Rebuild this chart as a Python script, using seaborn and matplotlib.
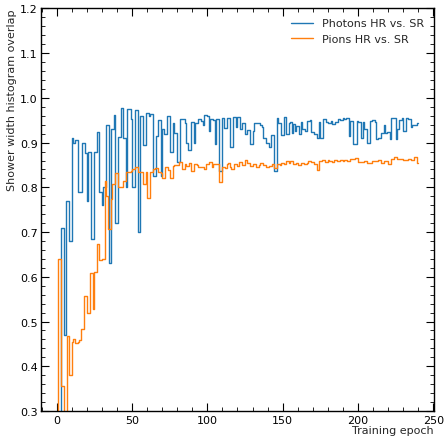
import matplotlib
matplotlib.use("Agg")
import matplotlib.pyplot as plt
from matplotlib.ticker import MultipleLocator
import numpy as np
import pandas as pd
import seaborn as sns

# Overlap per training epoch (epochs 0..240)
photons_hr_vs_sr = [
    0.20, 0.22, 0.24, 0.71, 0.71, 0.47, 0.77, 0.77, 0.68, 0.68,
    0.91, 0.90, 0.905, 0.905, 0.79, 0.79, 0.79, 0.90, 0.90, 0.877,
    0.77, 0.88, 0.88, 0.685, 0.685, 0.88, 0.88, 0.923, 0.79, 0.79,
    0.76, 0.80, 0.80, 0.94, 0.94, 0.63, 0.93, 0.93, 0.962, 0.72,
    0.72, 0.913, 0.913, 0.977, 0.91, 0.91, 0.80, 0.976, 0.976, 0.953,
    0.80, 0.80, 0.973, 0.973, 0.70, 0.96, 0.96, 0.894, 0.894, 0.966,
    0.966, 0.96, 0.963, 0.963, 0.825, 0.825, 0.914, 0.95, 0.95, 0.826,
    0.93, 0.92, 0.92, 0.96, 0.96, 0.878, 0.878, 0.944, 0.922, 0.922,
    0.856, 0.856, 0.952, 0.952, 0.952, 0.944, 0.90, 0.884, 0.884, 0.946,
    0.946, 0.90, 0.944, 0.944, 0.952, 0.952, 0.948, 0.94, 0.962, 0.962,
    0.96, 0.927, 0.952, 0.952, 0.95, 0.898, 0.953, 0.953, 0.837, 0.837,
    0.955, 0.933, 0.933, 0.955, 0.955, 0.89, 0.89, 0.958, 0.958, 0.935,
    0.958, 0.958, 0.93, 0.944, 0.944, 0.92, 0.928, 0.928, 0.897, 0.897,
    0.925, 0.943, 0.943, 0.943, 0.943, 0.94, 0.935, 0.91, 0.91, 0.90,
    0.90, 0.89, 0.916, 0.916, 0.837, 0.837, 0.954, 0.944, 0.944, 0.917,
    0.917, 0.958, 0.92, 0.92, 0.944, 0.946, 0.922, 0.941, 0.926, 0.937,
    0.937, 0.919, 0.945, 0.93, 0.93, 0.926, 0.948, 0.948, 0.95, 0.924,
    0.924, 0.919, 0.919, 0.911, 0.945, 0.911, 0.911, 0.953, 0.953, 0.945,
    0.944, 0.944, 0.948, 0.941, 0.941, 0.946, 0.946, 0.953, 0.951, 0.951,
    0.955, 0.953, 0.955, 0.956, 0.915, 0.948, 0.948, 0.896, 0.896, 0.948,
    0.946, 0.946, 0.911, 0.946, 0.93, 0.93, 0.90, 0.90, 0.948, 0.95,
    0.95, 0.945, 0.907, 0.91, 0.91, 0.922, 0.922, 0.94, 0.922, 0.923,
    0.923, 0.908, 0.954, 0.954, 0.954, 0.908, 0.93, 0.95, 0.95, 0.954,
    0.926, 0.926, 0.954, 0.952, 0.952, 0.934, 0.94, 0.94, 0.94, 0.943,
    0.943,
]

pions_hr_vs_sr = [
    0.15, 0.64, 0.64, 0.357, 0.357, 0.25, 0.25, 0.468, 0.38, 0.38,
    0.455, 0.46, 0.452, 0.452, 0.455, 0.458, 0.483, 0.483, 0.556, 0.556,
    0.52, 0.52, 0.608, 0.608, 0.528, 0.611, 0.611, 0.674, 0.637, 0.637,
    0.64, 0.64, 0.814, 0.781, 0.706, 0.706, 0.773, 0.807, 0.807, 0.833,
    0.833, 0.80, 0.80, 0.80, 0.815, 0.815, 0.835, 0.835, 0.835, 0.837,
    0.842, 0.842, 0.845, 0.845, 0.835, 0.835, 0.835, 0.807, 0.807, 0.835,
    0.777, 0.777, 0.835, 0.835, 0.84, 0.843, 0.843, 0.835, 0.835, 0.833,
    0.82, 0.82, 0.845, 0.845, 0.838, 0.82, 0.82, 0.847, 0.849, 0.849,
    0.849, 0.857, 0.857, 0.84, 0.84, 0.852, 0.848, 0.848, 0.854, 0.837,
    0.837, 0.852, 0.852, 0.849, 0.846, 0.846, 0.846, 0.846, 0.84, 0.852,
    0.852, 0.857, 0.857, 0.846, 0.852, 0.852, 0.852, 0.852, 0.812, 0.812,
    0.846, 0.846, 0.844, 0.852, 0.854, 0.846, 0.84, 0.84, 0.852, 0.852,
    0.848, 0.857, 0.857, 0.85, 0.85, 0.862, 0.855, 0.855, 0.848, 0.848,
    0.852, 0.852, 0.846, 0.846, 0.85, 0.855, 0.855, 0.85, 0.85, 0.846,
    0.846, 0.848, 0.848, 0.852, 0.843, 0.843, 0.852, 0.852, 0.85, 0.855,
    0.855, 0.852, 0.858, 0.858, 0.855, 0.859, 0.859, 0.852, 0.852, 0.855,
    0.849, 0.849, 0.855, 0.855, 0.852, 0.852, 0.855, 0.859, 0.859, 0.857,
    0.857, 0.852, 0.852, 0.838, 0.859, 0.859, 0.862, 0.862, 0.857, 0.857,
    0.862, 0.859, 0.859, 0.857, 0.862, 0.862, 0.859, 0.859, 0.862, 0.862,
    0.859, 0.862, 0.862, 0.859, 0.859, 0.863, 0.863, 0.863, 0.865, 0.865,
    0.857, 0.857, 0.857, 0.857, 0.859, 0.859, 0.854, 0.854, 0.854, 0.859,
    0.859, 0.859, 0.859, 0.862, 0.862, 0.854, 0.854, 0.859, 0.859, 0.859,
    0.852, 0.852, 0.863, 0.863, 0.867, 0.867, 0.863, 0.863, 0.863, 0.863,
    0.862, 0.862, 0.862, 0.863, 0.863, 0.862, 0.862, 0.867, 0.867, 0.855,
    0.855,
]

series_labels = ["Photons HR vs. SR", "Pions HR vs. SR"]
series_colors = ["#1f77b4", "#ff7f0e"]

epochs = np.arange(len(photons_hr_vs_sr))
df = pd.concat([
    pd.DataFrame({"epoch": epochs, "overlap": photons_hr_vs_sr, "series": series_labels[0]}),
    pd.DataFrame({"epoch": epochs, "overlap": pions_hr_vs_sr, "series": series_labels[1]}),
], ignore_index=True)

sns.set_style("ticks")
plt.rcParams.update({
    "font.family": ["DejaVu Sans"],
    "font.size": 8,
    "xtick.direction": "in",
    "ytick.direction": "in",
    "xtick.top": True,
    "ytick.right": True,
    "xtick.minor.visible": True,
    "ytick.minor.visible": True,
    "xtick.major.size": 5.5,
    "ytick.major.size": 5.5,
    "xtick.minor.size": 3,
    "ytick.minor.size": 3,
    "xtick.major.width": 0.8,
    "ytick.major.width": 0.8,
    "xtick.color": "black",
    "ytick.color": "black",
    "axes.edgecolor": "black",
    "axes.linewidth": 1.0,
})

fig = plt.figure(figsize=(4.45, 4.39), dpi=100)
ax = fig.add_axes([0.0915, 0.0615, 0.884, 0.917])

sns.lineplot(
    data=df, x="epoch", y="overlap", hue="series",
    palette=dict(zip(series_labels, series_colors)),
    drawstyle="steps-post", linewidth=1.0, ax=ax, estimator=None,
)

ax.set_xlim(-10.6, 250.5)
ax.set_ylim(0.3, 1.2)
ax.xaxis.set_major_locator(MultipleLocator(50))
ax.xaxis.set_minor_locator(MultipleLocator(10))
ax.yaxis.set_major_locator(MultipleLocator(0.1))
ax.yaxis.set_minor_locator(MultipleLocator(0.02))
ax.tick_params(which="both", top=True, right=True, direction="in", labelsize=8)
ax.tick_params(axis="y", which="major", pad=2)
ax.tick_params(axis="x", which="major", pad=3)

ax.set_xlabel("Training epoch", loc="right", fontsize=8, labelpad=0)
ax.set_ylabel("Shower width histogram overlap", loc="top", fontsize=8, labelpad=2)

handles, labels = ax.get_legend_handles_labels()
ax.legend(handles, labels, loc="upper right", frameon=False, fontsize=8)

fig.savefig("out.png", dpi=100)
